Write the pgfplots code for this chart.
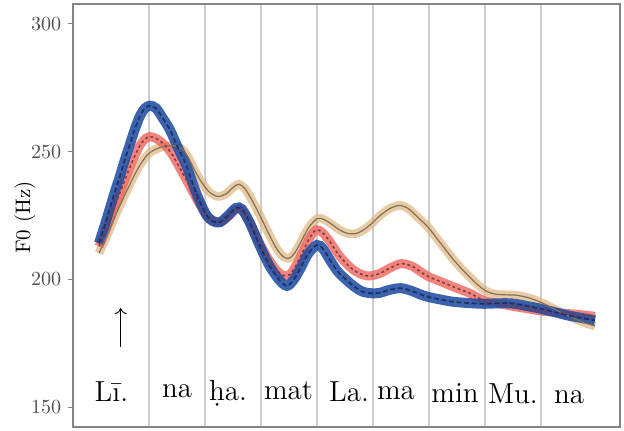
\documentclass[border=0pt]{standalone}
\usepackage{pgfplots}
\usepackage{pgfplotstable}
\pgfplotsset{compat=1.18}
\usetikzlibrary{arrows.meta}
\definecolor{bandblue}{HTML}{1A49A0}
\definecolor{bandred}{HTML}{EF635B}
\definecolor{bandtan}{HTML}{DEB57C}
\definecolor{lineblue}{HTML}{1D2F66}
\definecolor{linered}{HTML}{7A3A3F}
\definecolor{linetan}{HTML}{807060}
\definecolor{framegray}{HTML}{858585}
\definecolor{gridgray}{HTML}{CDCDCD}
\definecolor{ticktext}{HTML}{4D4D4D}

\pgfplotstableread{
x y
99 214.2
105 221.5
110 228
115 234.5
120 240.5
125 247
130 253
135 259
140 264
145 267
150 268
156 267
163 263
170 258.5
178 251.5
187 244
196 234
206 225.5
213 222.8
220 222.4
228 225
236 228
242 227.5
250 222
260 213
270 205
280 199.5
287 197.5
293 199.5
300 204
308 210
317 213.5
323 212
330 207.6
338 203
347 199.6
355 197
363 195.2
372 194.6
380 194.8
390 196
401 196.6
412 195.5
420 194.2
428 193.2
440 192.2
453 191.3
468 190.8
484 190.5
500 190.7
513 190.6
527 189.6
539 188.7
553 187.4
567 186
581 185
595 184
}\blueData

\pgfplotstableread{
x y
99 213
105 218.5
110 223.5
115 229
120 234
125 239
130 244
135 248.5
140 252.5
145 255
150 255.9
157 255
165 252.5
172 249
180 243.5
187 238.5
196 232
205 226
212 223.2
220 222.5
228 224.5
236 227.5
242 227
250 222
260 214
270 207
278 203
284 201.5
290 202
296 205.5
303 211
310 216.5
316 219.4
322 218.5
330 214.8
338 210
347 206
355 203.3
363 201.8
370 201.4
380 202.4
390 204.5
401 206.2
412 205.2
420 203.2
428 201.2
440 199.3
453 197.2
462 195.8
470 194.6
484 191.8
500 190.5
513 189.5
527 188.6
539 187.8
553 187.2
567 186.7
581 186.2
595 185.6
}\redData

\pgfplotstableread{
x y
99 210.3
105 215.5
110 220
115 224.7
120 229
125 233.3
130 237.3
135 241.3
140 244.8
145 247.6
150 249.7
157 251.2
165 252.1
175 252.3
182 251
188 248
195 242.5
202 237.8
210 234
218 232.5
226 233.5
233 236
239 237.3
245 235.5
252 231
260 225
268 218.5
276 212.5
283 209
289 208.3
295 210.5
302 215.5
309 220.5
317 223.8
324 223.5
332 221.5
340 219.3
348 218
356 218
364 219.5
372 222
380 225
390 227.8
400 229
408 227.8
416 225
428 220.5
437 216
445 212
453 208
462 204
471 200.5
479 197.5
487 195.3
495 194.3
505 194
515 193.9
525 193.2
535 192
545 190.3
555 188.3
565 186.4
575 184.6
585 183
595 181.8
}\tanData

\begin{document}
\begin{tikzpicture}
\useasboundingbox (-36.65pt,-1.65pt) rectangle (275.35pt,213.35pt);
\begin{axis}[
  scale only axis,
  width=273.35pt, height=211.35pt,
  xmin=73.3, xmax=620, ymin=142.4, ymax=307.8,
  axis line style={draw=framegray, line width=0.8pt},
  xtick={149,205,261,317,373,429,485,541},
  xmajorticks=false,
  xmajorgrids,
  major grid style={draw=gridgray, line width=0.6pt},
  ytick={150,200,250,300},
  y tick style={draw=framegray, line width=0.5pt},
  tick align=outside,
  major tick length=2.5pt,
  ytick pos=left,
  yticklabel style={font=\fontsize{10}{11}\selectfont, text=ticktext},
  ylabel={F0 (Hz)},
  every axis y label/.style={at={(axis description cs:-0.0884,0.495)},rotate=90,anchor=center,font=\fontsize{10.5}{12}\selectfont},
  clip=true,
]
\addplot[smooth, draw=bandtan, opacity=0.7, line width=4.3pt] table {\tanData};
\addplot[smooth, draw=bandred, opacity=0.8, line width=4.5pt] table {\redData};
\addplot[smooth, draw=bandblue, opacity=0.85, line width=5pt] table {\blueData};
\addplot[smooth, draw=linetan, line width=0.6pt] table {\tanData};
\addplot[smooth, draw=linered, line width=0.75pt, dash pattern=on 1.4pt off 1.4pt] table {\redData};
\addplot[smooth, draw=lineblue, line width=0.85pt, dash pattern=on 2.4pt off 1.4pt] table {\blueData};

\draw[-{To[length=3pt,width=6pt]}, line width=0.45pt] (axis cs:120.7,173.6) -- (axis cs:120.7,188.8);

\begin{scope}[every node/.style={anchor=base, font=\fontsize{14.5}{17}\selectfont, inner sep=0pt}]
\node at (axis cs:111.5,152.45) {Lī.};
\node at (axis cs:177,154.0) {na};
\node at (axis cs:228,152.8) {\d{h}a.};
\node at (axis cs:288.5,153.2) {mat};
\node at (axis cs:349,152.45) {La.};
\node at (axis cs:396,153.2) {ma};
\node at (axis cs:455,152.05) {min};
\node at (axis cs:513,151.66) {Mu.};
\node at (axis cs:569,151.66) {na};
\end{scope}
\end{axis}
\end{tikzpicture}
\end{document}
